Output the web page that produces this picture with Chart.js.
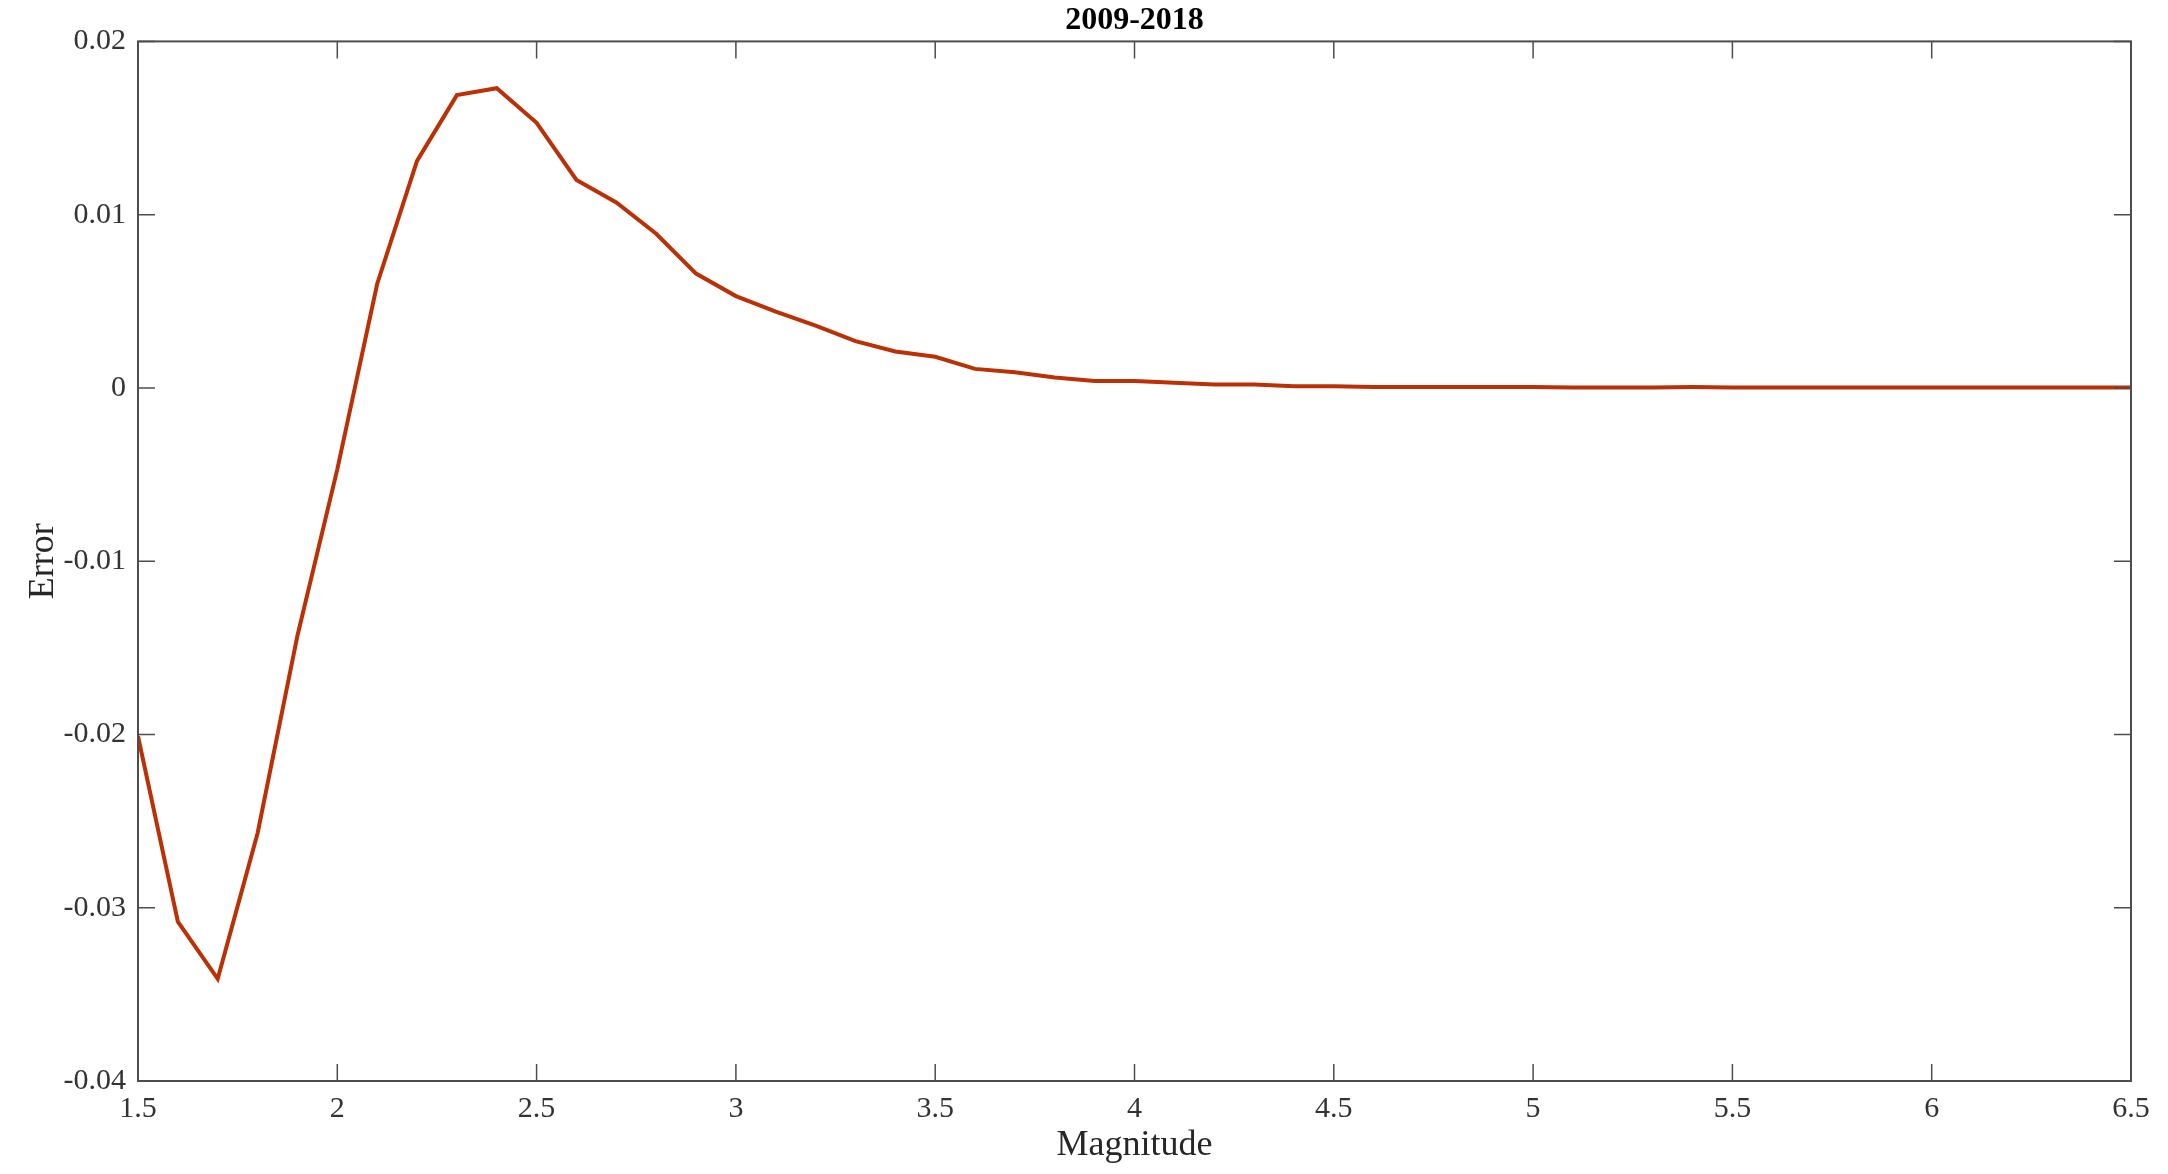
<!DOCTYPE html>
<html>
<head>
<meta charset="utf-8">
<title>2009-2018</title>
<script src="https://cdn.jsdelivr.net/npm/chart.js@4.4.1/dist/chart.umd.min.js"></script>
<style>
    body { margin: 0; background: white; }
    #caixa { width: 2168px; height: 1174px; position: relative; }
</style>
</head>
<body>
<div id="caixa"><canvas id="grafico1"></canvas></div>
<script>
const magnitude = [1.5, 1.6, 1.7, 1.8, 1.9, 2.0, 2.1, 2.2, 2.3, 2.4,
    2.5, 2.6, 2.7, 2.8, 2.9, 3.0, 3.1, 3.2, 3.3, 3.4,
    3.5, 3.6, 3.7, 3.8, 3.9, 4.0, 4.1, 4.2, 4.3, 4.4,
    4.5, 4.6, 4.7, 4.8, 4.9, 5.0, 5.1, 5.2, 5.3, 5.4,
    5.5, 5.6, 5.7, 5.8, 5.9, 6.0, 6.1, 6.2, 6.3, 6.4, 6.5];
const erro = [-0.0201, -0.0308, -0.0341, -0.0257, -0.0143, -0.0047, 0.0060, 0.0131, 0.0169, 0.0173,
    0.0153, 0.0120, 0.0107, 0.0089, 0.0066, 0.0053, 0.0044, 0.0036, 0.0027, 0.0021,
    0.0018, 0.0011, 0.0009, 0.0006, 0.0004, 0.0004, 0.0003, 0.0002, 0.0002, 0.0001,
    0.0001, 0.00005, 0.00005, 0.00006, 0.00005, 0.00005, 0.00003, 0.00003, 0.00003, 0.00005,
    0.00003, 0.00002, 0.00002, 0.00003, 0.00003, 0.00003, 0.00003, 0.00002, 0.00002, 0.00002, 0.00003];

const xTicks = [1.5, 2, 2.5, 3, 3.5, 4, 4.5, 5, 5.5, 6, 6.5];
const yTicks = [-0.04, -0.03, -0.02, -0.01, 0, 0.01, 0.02];

const fonte = "'Liberation Serif', 'Times New Roman', serif";
const corEixo = "#4d4d4d";

// box + ticks pointing inward, like the matlab figure
const caixaPlugin = {
    id: "caixa",
    afterDraw(chart) {
        const c = chart.ctx;
        const a = chart.chartArea;
        const x = chart.scales.x;
        const y = chart.scales.y;
        const len = 17;
        c.save();
        c.strokeStyle = corEixo;
        c.lineWidth = 2;
        c.strokeRect(a.left, a.top, a.right - a.left, a.bottom - a.top);
        c.lineWidth = 1.5;
        c.beginPath();
        xTicks.forEach(v => {
            const px = x.getPixelForValue(v);
            c.moveTo(px, a.bottom); c.lineTo(px, a.bottom - len);
            c.moveTo(px, a.top); c.lineTo(px, a.top + len);
        });
        yTicks.forEach(v => {
            const py = y.getPixelForValue(v);
            c.moveTo(a.left, py); c.lineTo(a.left + len, py);
            c.moveTo(a.right, py); c.lineTo(a.right - len, py);
        });
        c.stroke();
        c.restore();
    },
};

const ctx = document.getElementById("grafico1");

new Chart(ctx, {
    type: "line",
    data: {
        datasets: [
            {
                label: "Error",
                data: magnitude.map((m, i) => ({ x: m, y: erro[i] })),
                borderColor: "rgb(188, 48, 6)",
                borderWidth: 4,
                pointRadius: 0,
                tension: 0,
                fill: false,
            },
        ],
    },
    options: {
        responsive: true,
        maintainAspectRatio: false,
        animation: false,
        layout: {
            padding: { left: 0, right: 37, top: 0, bottom: 0 },
        },
        plugins: {
            legend: { display: false },
            tooltip: { enabled: false },
            title: {
                display: true,
                fullSize: false,
                text: "2009-2018",
                color: "#000",
                font: { family: fonte, size: 32, weight: "bold" },
                padding: { top: 2, bottom: 1 },
            },
        },
        scales: {
            x: {
                type: "linear",
                min: 1.5,
                max: 6.5,
                afterBuildTicks: s => { s.ticks = xTicks.map(v => ({ value: v })); },
                afterFit: s => { s.height = 93; },
                grid: { display: false, drawTicks: false },
                border: { display: false },
                ticks: {
                    color: "#333",
                    font: { family: fonte, size: 30 },
                    padding: 10,
                    maxRotation: 0,
                    callback: v => String(v),
                },
                title: {
                    display: true,
                    text: "Magnitude",
                    color: "#262626",
                    font: { family: fonte, size: 36 },
                    padding: { top: 0, bottom: 7 },
                },
            },
            y: {
                type: "linear",
                min: -0.04,
                max: 0.02,
                afterBuildTicks: s => { s.ticks = yTicks.map(v => ({ value: v })); },
                afterFit: s => { s.width = 138; },
                grid: { display: false, drawTicks: false },
                border: { display: false },
                ticks: {
                    color: "#333",
                    font: { family: fonte, size: 30 },
                    padding: 12,
                    callback: v => String(Number(v.toFixed(2))),
                },
                title: {
                    display: true,
                    text: "Error",
                    color: "#262626",
                    font: { family: fonte, size: 36 },
                    padding: { top: 22, bottom: 0 },
                },
            },
        },
    },
    plugins: [caixaPlugin],
});
</script>
</body>
</html>
